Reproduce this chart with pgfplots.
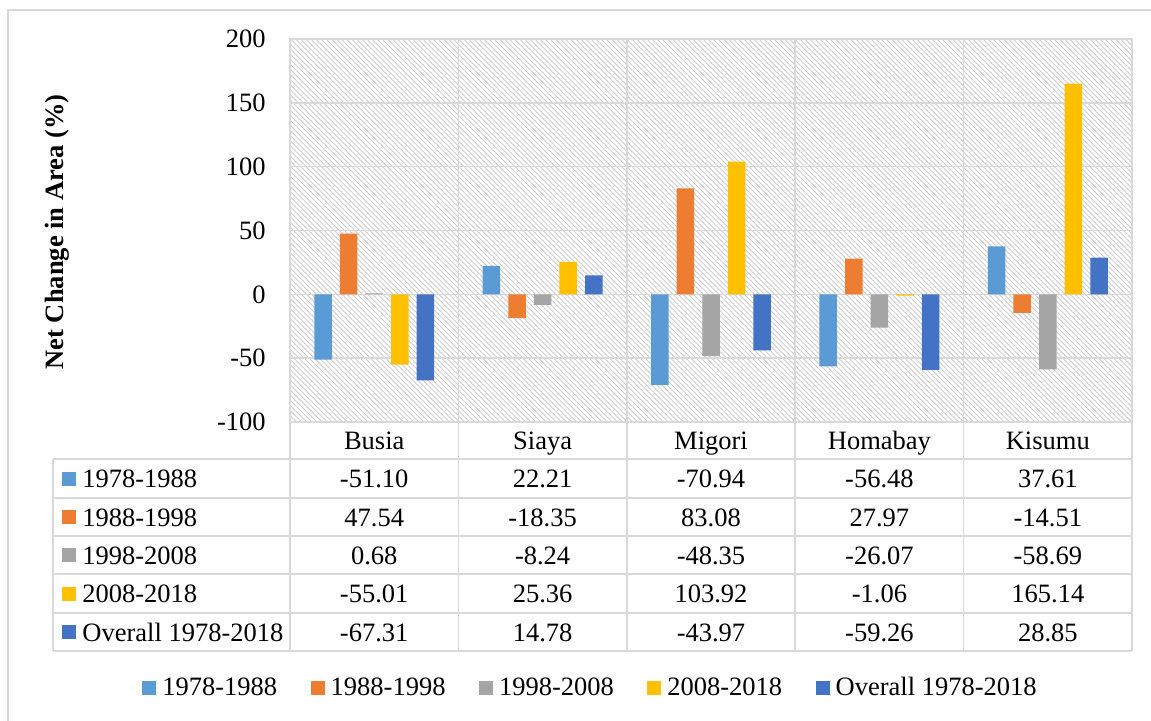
\documentclass[border=0pt]{standalone}
\usepackage{pgfplots}
\pgfplotsset{compat=1.18}
\usepackage{pgfplotstable}
\usepackage{fontspec}
\setmainfont{Liberation Serif}
\usetikzlibrary{patterns.meta}
\definecolor{cA}{HTML}{5B9BD5}
\definecolor{cB}{HTML}{ED7D31}
\definecolor{cC}{HTML}{A5A5A5}
\definecolor{cD}{HTML}{FFC000}
\definecolor{cE}{HTML}{4472C4}
\definecolor{gridc}{HTML}{D9D9D9}
\definecolor{hatch}{HTML}{CDCDCD}
\pgfplotstableread{
x a b c d e
0 -51.10 47.54 0.68 -55.01 -67.31
1 22.21 -18.35 -8.24 25.36 14.78
2 -70.94 83.08 -48.35 103.92 -43.97
3 -56.48 27.97 -26.07 -1.06 -59.26
4 37.61 -14.51 -58.69 165.14 28.85
}\datatable
\begin{document}
\begin{tikzpicture}[font=\fontsize{13.25pt}{16pt}\selectfont]
\begin{scope}[x=0.5pt,y=-0.5pt]
\useasboundingbox (0,0) rectangle (1151,721);
\draw[gridc, line width=0.75pt] (8,721) -- (8,10) -- (1151,10);
\foreach \y in {459,498,536,574,613,651} \draw[gridc,line width=0.75pt] (53,\y) -- (1132,\y);
\draw[gridc,line width=0.75pt] (53,459) -- (53,651);
\foreach \x in {290,458.4,626.8,795.2,963.6,1132} \draw[gridc,line width=0.75pt] (\x,422) -- (\x,651);
\node[rotate=90, font=\fontsize{13.25pt}{16pt}\selectfont\bfseries] at (57,232) {Net Change in Area (\%)};
\foreach \lab/\col/\y in {1978-1988/cA/478.5, 1988-1998/cB/517, 1998-2008/cC/555, 2008-2018/cD/593.5, Overall 1978-2018/cE/632} {
  \fill[\col] (62,\y-7) rectangle (76,\y+7);
  \node[anchor=base west, inner sep=0pt] at (82,\y+9) {\lab};
}
\foreach \y/\va/\vb/\vc/\vd/\ve in {
  478.5/-51.10/22.21/-70.94/-56.48/37.61,
  517/47.54/-18.35/83.08/27.97/-14.51,
  555/0.68/-8.24/-48.35/-26.07/-58.69,
  593.5/-55.01/25.36/103.92/-1.06/165.14,
  632/-67.31/14.78/-43.97/-59.26/28.85} {
  \node[anchor=base, inner sep=0pt] at (374.2,\y+9) {\va};
  \node[anchor=base, inner sep=0pt] at (542.6,\y+9) {\vb};
  \node[anchor=base, inner sep=0pt] at (711,\y+9) {\vc};
  \node[anchor=base, inner sep=0pt] at (879.4,\y+9) {\vd};
  \node[anchor=base, inner sep=0pt] at (1047.8,\y+9) {\ve};
}
\end{scope}
\begin{axis}[
  at={(145pt,-211pt)}, anchor=south west,
  width=421pt, height=191.5pt, scale only axis,
  font=\fontsize{13.25pt}{16pt}\selectfont,
  /pgf/number format/assume math mode=true,
  xmin=-0.5, xmax=4.5, ymin=-100, ymax=200,
  ytick={-100,-50,...,200},
  xtick={0,...,4},
  xticklabels={Busia,Siaya,Migori,Homabay,Kisumu},
  minor xtick={0.5,1.5,2.5,3.5},
  xminorgrids, ymajorgrids,
  major tick length=0pt, minor tick length=0pt,
  grid style={gridc, line width=0.75pt},
  minor grid style={gridc, line width=0.75pt},
  axis line style={gridc, line width=0.75pt},
  axis background/.style={pattern={Lines[angle=-45, distance=1.8pt, line width=0.45pt]}, pattern color=hatch},
  yticklabel style={anchor=east, inner sep=0pt, xshift=-12pt},
  xticklabel style={anchor=base, inner sep=0pt, yshift=-13.5pt},
  ybar=4.05pt, bar width=8.75pt,
  legend columns=5,
  legend style={at={(rel axis cs:0.3557,-0.6945)}, anchor=center, draw=none, fill=none, inner sep=0pt,
    nodes={inner sep=0pt},
    /tikz/every odd column/.append style={column sep=3pt},
    /tikz/every even column/.append style={column sep=16.75pt}},
  legend image code/.code={\fill[#1] (0pt,-3.5pt) rectangle (7pt,3.5pt);},
]
\addplot[fill=cA, draw=none] table[x=x, y=a] {\datatable};
\addplot[fill=cB, draw=none] table[x=x, y=b] {\datatable};
\addplot[fill=cC, draw=none] table[x=x, y=c] {\datatable};
\addplot[fill=cD, draw=none] table[x=x, y=d] {\datatable};
\addplot[fill=cE, draw=none] table[x=x, y=e] {\datatable};
\legend{1978-1988,1988-1998,1998-2008,2008-2018,Overall 1978-2018}
\end{axis}
\end{tikzpicture}
\end{document}
